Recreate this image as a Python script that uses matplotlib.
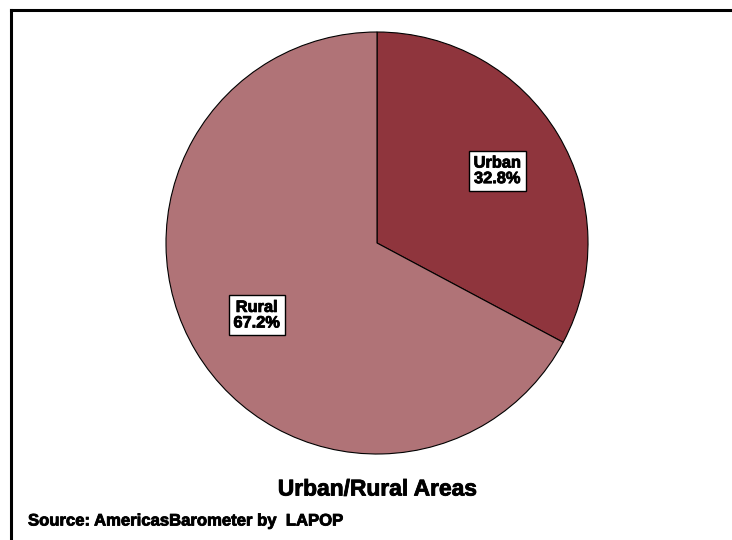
import numpy as np
import matplotlib.pyplot as plt
from matplotlib.lines import Line2D
import matplotlib.patheffects as pe

plt.rcParams['font.family'] = ['Liberation Sans', 'DejaVu Sans']

areas = ['Urban', 'Rural']
shares = [32.8, 67.2]
colors = ['#8f353d', '#b07377']

fig = plt.figure(figsize=(7.32, 5.40), dpi=100)

# pie axes: centre at (377, 243) px, radius 211 px
W, H = 732.0, 540.0
cx, cy, r = 377, 243, 211
ax = fig.add_axes([(cx - r) / W, 1 - (cy + r) / H, 2 * r / W, 2 * r / H])
wedges, texts = ax.pie(shares, colors=colors, startangle=90, counterclock=False,
                       wedgeprops=dict(edgecolor='black', linewidth=0.8))
ax.set_xlim(-1, 1)
ax.set_ylim(-1, 1)
ax.set_aspect('equal')
ax.axis('off')

# heavier look for the bold text
heavy = [pe.withStroke(linewidth=0.6, foreground='black')]

start = 90.0
for name, val in zip(areas, shares):
    mid = np.deg2rad(start - val * 3.6 / 2)
    start -= val * 3.6
    ax.text(0.665 * np.cos(mid), 0.665 * np.sin(mid), f'{name}\n{val:.1f}%',
            ha='center', va='center', fontsize=11.8, fontweight='bold',
            linespacing=1.05, path_effects=heavy,
            bbox=dict(boxstyle='square,pad=0.3', facecolor='white',
                      edgecolor='black', linewidth=1.0))

fig.text(cx / W, 1 - 489 / H, 'Urban/Rural Areas', ha='center', va='center',
         fontsize=16.4, fontweight='bold', path_effects=heavy)
fig.text(28 / W, 1 - 521 / H, 'Source: AmericasBarometer by  LAPOP',
         ha='left', va='center', fontsize=12.0, fontweight='bold',
         path_effects=heavy)

# open frame: top and left edges only
fig.add_artist(Line2D([11 / W, 1.0], [1 - 9.5 / H, 1 - 9.5 / H],
                      color='black', linewidth=2.2, transform=fig.transFigure))
fig.add_artist(Line2D([11 / W, 11 / W], [0.0, 1 - 9.5 / H],
                      color='black', linewidth=2.2, transform=fig.transFigure,
                      solid_capstyle='projecting'))

fig.savefig('out.png', dpi=100)
